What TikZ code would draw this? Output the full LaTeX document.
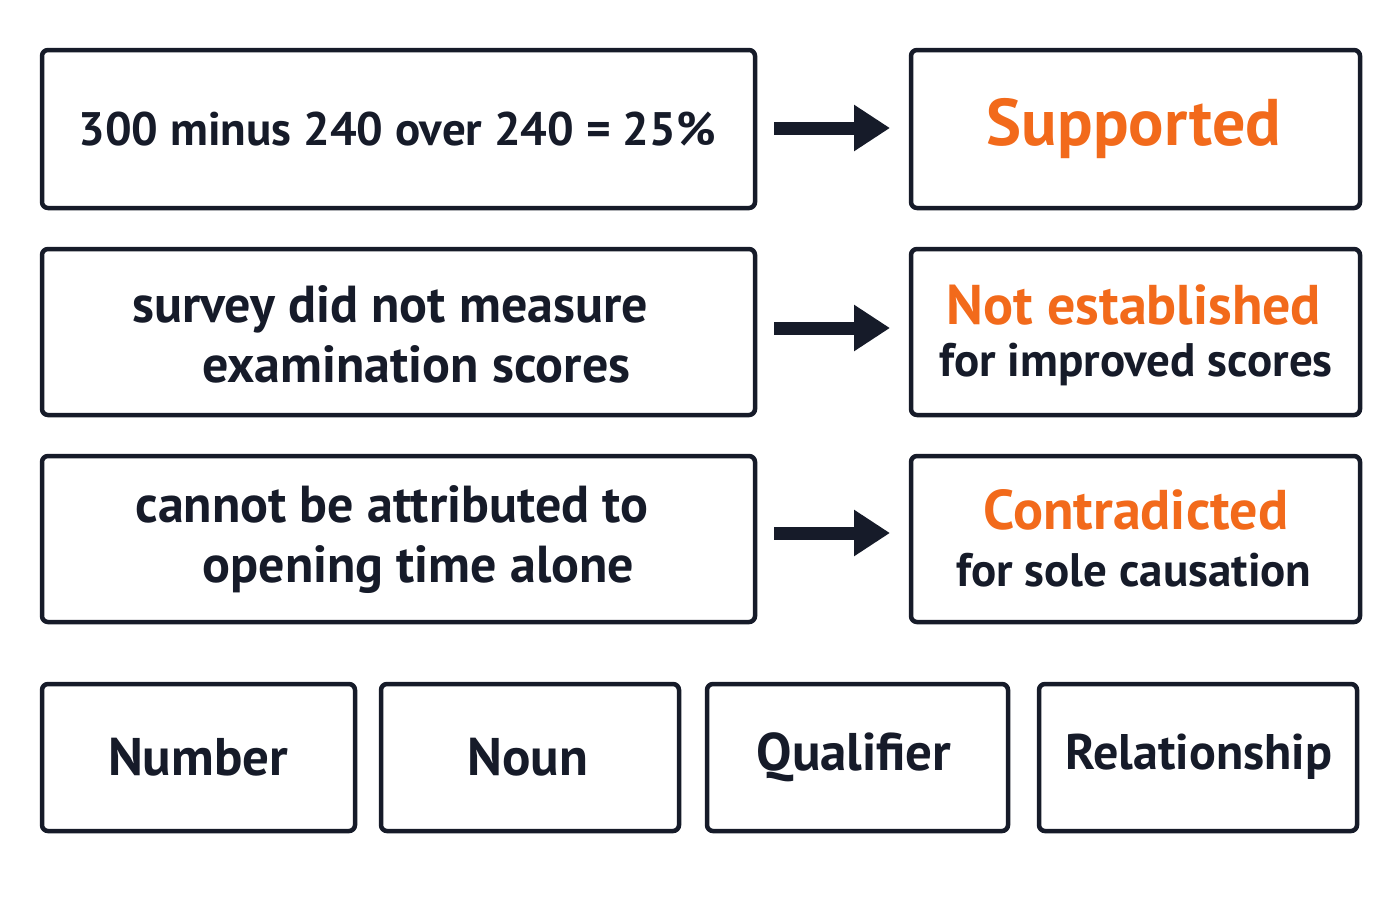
\documentclass[tikz,border=0pt]{standalone}
\usepackage{fontspec}
\setmainfont{PT Sans}
\usetikzlibrary{arrows.meta}
\definecolor{ink}{HTML}{161B29}
\definecolor{org}{HTML}{F26A1B}
\begin{document}
\begin{tikzpicture}[x=1pt,y=-1pt,
  box/.style={draw=ink,line width=4.5pt,rounded corners=6pt},
  txt/.style={text=ink,font=\bfseries\fontsize{52}{60}\selectfont,align=center},
  sub/.style={text=ink,font=\bfseries\fontsize{47}{56}\selectfont},
  hd/.style={text=org,font=\bfseries\fontsize{56}{60}\selectfont},
  lab/.style={text=ink,font=\bfseries\fontsize{53}{60}\selectfont},
  arr/.style={ink,line width=13pt,-{Triangle[length=36pt,width=44pt]}}]
\useasboundingbox (0,0) rectangle (1400,900);
\draw[box] (42,50) rectangle (755,208);
\draw[box] (911,50) rectangle (1360,208);
\draw[box] (42,249) rectangle (755,415);
\draw[box] (911,249) rectangle (1360,415);
\draw[box] (42,456) rectangle (755,622);
\draw[box] (911,456) rectangle (1360,622);
\draw[box] (42,684) rectangle (355,831);
\draw[box] (381,684) rectangle (679,831);
\draw[box] (707,684) rectangle (1008,831);
\draw[box] (1039,684) rectangle (1357,831);
\node[text=ink,font=\bfseries\fontsize{47}{56}\selectfont] (l1) at (397,129) {300 minus 240 over 240 = 25\%};
\node[txt] (l2) at (390,334) {survey did not measure\\\ \ \ \ examination scores};
\node[txt] (l3) at (392,540) {cannot be attributed to\\\ \ \ \ opening time alone};
\node[hd,font=\bfseries\fontsize{66}{66}\selectfont] (r1) at (1134,129) {Supported};
\node[hd] (r2a) at (1134,305) {Not established};
\node[sub] (r2b) at (1136,364) {for improved scores};
\node[hd] (r3a) at (1136,510) {Contradicted};
\node[sub] (r3b) at (1134,570) {for sole causation};
\node[lab] (b1) at (198,757) {Number};
\node[lab] (b2) at (528,757) {Noun};
\node[lab] (b3) at (854,757) {Qualifier};
\node[lab,font=\bfseries\fontsize{50}{60}\selectfont] (b4) at (1199,757) {Relationship};
\coordinate (a1) at (774,128); \coordinate (e1) at (890,128);
\coordinate (a2) at (774,328); \coordinate (e2) at (890,328);
\coordinate (a3) at (774,533); \coordinate (e3) at (890,533);
\draw[arr] (a1) -- (e1);
\draw[arr] (a2) -- (e2);
\draw[arr] (a3) -- (e3);
\end{tikzpicture}
\end{document}
